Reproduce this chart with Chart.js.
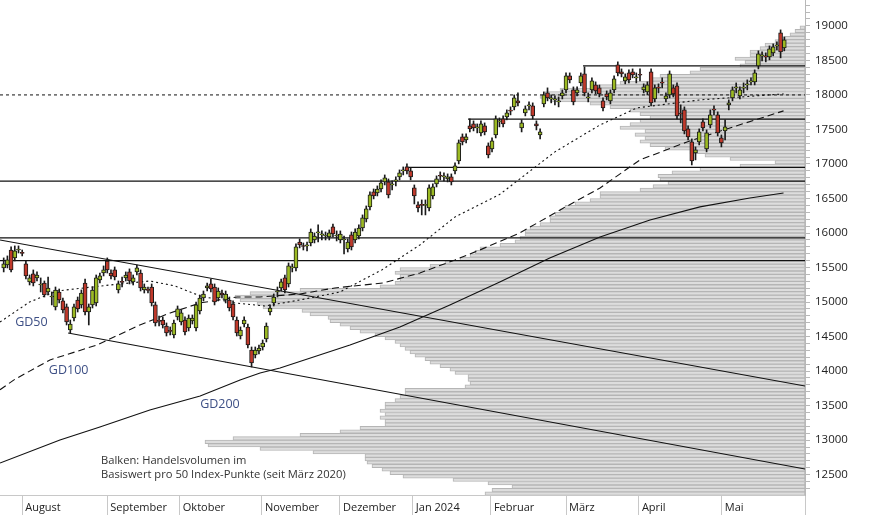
<!DOCTYPE html>
<html>
<head>
<meta charset="utf-8">
<script src="https://cdn.jsdelivr.net/npm/chart.js@4"></script>
<style>
  html, body { margin: 0; padding: 0; background: #ffffff; }
  #chart { display: block; }
</style>
</head>
<body>
<canvas id="chart" width="874" height="515"></canvas>
<script>
// Daily candles (trading day index 0 .. 211)
const openP = [15494,15537,15754,15639,15754,15720,15552,15291,15407,15349,
  15247,15276,15146,15073,14929,15146,15016,14929,14595,14769,
  15030,14958,15276,14856,14958,14987,15320,15421,15595,15421,
  15465,15175,15291,15349,15436,15291,15436,15421,15175,15180,
  15218,14958,14726,14740,14653,14581,14523,14784,14711,14740,
  14624,14726,14624,14871,15059,15204,15262,15218,15059,15131,
  15030,15030,14972,14740,14508,14682,14639,14305,14233,14291,
  14349,14465,14856,14987,15146,15204,15349,15262,15494,15494,
  15870,15813,15813,15856,15899,16001,15972,15957,15943,16088,
  15957,15899,15899,15769,15972,15899,15957,16073,16203,16378,
  16595,16580,16638,16740,16740,16696,16754,16812,16899,16957,
  16899,16653,16407,16407,16400,16363,16537,16711,16827,16812,
  16783,16812,16899,17044,17392,17348,17551,17580,17522,17450,
  17551,17261,17218,17421,17609,17653,17682,17769,17827,17914,
  17522,17740,17841,17841,17580,17421,17870,18029,17942,17928,
  17899,17986,18073,18276,18073,18029,18174,18305,17957,18073,
  18145,18102,17914,18015,17914,18073,18435,18334,18203,18319,
  18334,18247,18290,18073,18044,18334,17942,18102,18174,17942,
  18000,18102,18131,17725,17783,17508,17319,17160,17319,17609,
  17218,17566,17783,17711,17377,17479,17856,17957,18102,17986,
  18098,18145,18189,18189,18421,18566,18560,18551,18609,18710,
  18899,18681];
const highP = [15639,15668,15798,15813,15813,15754,15595,15392,15465,15436,
  15349,15305,15363,15146,15218,15189,15059,14972,14740,14972,
  15073,15175,15334,14972,15218,15392,15421,15523,15639,15465,
  15508,15305,15363,15436,15480,15392,15537,15465,15262,15218,
  15262,15001,14798,14784,14697,14639,14740,14943,14885,14784,
  14813,14813,15001,15102,15160,15276,15334,15262,15204,15175,
  15160,15073,15016,14784,14639,14784,14682,14349,14349,14378,
  14450,14697,14958,15117,15218,15334,15392,15566,15552,15842,
  15914,15856,15870,16059,16001,16117,16030,16015,16044,16131,
  16030,16030,15957,15914,16015,16059,16117,16262,16392,16595,
  16638,16682,16769,16841,16783,16754,16812,16914,16957,17001,
  16943,16696,16450,16479,16479,16696,16711,16827,16885,16871,
  16856,16856,17015,17348,17435,17435,17653,17624,17580,17624,
  17595,17305,17377,17696,17667,17696,17783,17827,18000,18029,
  17639,17841,17899,17885,17624,17508,18044,18102,18000,17986,
  17971,18073,18319,18319,18116,18116,18319,18406,18029,18247,
  18189,18145,17957,18058,18073,18276,18479,18377,18305,18363,
  18377,18319,18377,18160,18189,18377,18145,18160,18247,18029,
  18348,18145,18174,17856,17827,17551,17363,17247,17508,17653,
  17493,17783,17841,17754,17421,17639,17928,18116,18174,18116,
  18174,18218,18247,18363,18638,18624,18609,18710,18739,18768,
  18942,18841];
const lowP = [15436,15494,15436,15595,15711,15668,15335,15247,15233,15305,
  15146,15073,15102,14958,14885,14987,14842,14668,14552,14726,
  14856,14914,14813,14668,14914,14943,15276,15378,15421,15335,
  15320,15131,15218,15305,15262,15247,15392,15160,15131,15131,
  14943,14653,14653,14624,14508,14523,14480,14740,14668,14523,
  14581,14682,14581,14827,15016,15160,15146,14958,15016,15059,
  14987,14871,14740,14508,14465,14639,14334,14059,14190,14248,
  14305,14422,14813,14943,15073,15160,15131,15218,15436,15450,
  15784,15754,15740,15813,15856,15870,15899,15899,15899,15943,
  15885,15856,15697,15725,15754,15856,15914,16030,16160,16334,
  16494,16537,16595,16696,16508,16624,16682,16769,16841,16856,
  16769,16421,16305,16262,16262,16320,16494,16667,16769,16754,
  16740,16696,16856,17001,17276,17305,17464,17479,17450,17406,
  17421,17088,17175,17377,17537,17537,17639,17711,17783,17841,
  17464,17696,17783,17653,17493,17363,17827,17914,17885,17856,
  17827,17942,18029,18174,17856,17986,18131,17986,17899,18029,
  18015,17971,17769,17928,17870,18029,18276,18261,18160,18174,
  18247,18174,18203,18029,18000,17841,17899,18029,18102,17899,
  17957,17971,17653,17595,17435,17348,16986,17059,17276,17479,
  17175,17522,17711,17406,17247,17348,17783,17914,18029,17942,
  18029,18073,18145,18145,18377,18493,18479,18508,18566,18652,
  18537,18638];
const closeP = [15552,15610,15465,15740,15760,15705,15378,15349,15276,15392,
  15255,15102,15204,15080,15175,15030,14885,14711,14682,14929,
  14900,15131,14856,14929,15175,15349,15378,15465,15465,15378,
  15363,15262,15285,15392,15305,15349,15494,15204,15218,15170,
  14987,14697,14720,14668,14552,14575,14697,14900,14842,14566,
  14769,14769,14958,15059,15117,15233,15189,15001,15160,15102,
  15117,14914,14784,14552,14595,14740,14378,14117,14305,14334,
  14407,14653,14914,15073,15150,15291,15175,15523,15500,15798,
  15827,15805,15818,16015,15957,16005,15975,15960,16001,15986,
  15962,15986,15905,15870,15798,16015,16073,16218,16349,16552,
  16537,16638,16725,16798,16552,16700,16758,16871,16905,16899,
  16812,16537,16363,16400,16410,16653,16667,16783,16822,16815,
  16812,16740,16972,17305,17319,17392,17508,17522,17525,17580,
  17464,17131,17334,17653,17615,17580,17740,17765,17957,17885,
  17595,17798,17845,17696,17551,17464,18000,17957,17945,17932,
  17903,18029,18276,18218,17899,18073,18276,18029,17960,18203,
  18058,18015,17812,17971,18029,18232,18319,18305,18261,18218,
  18290,18250,18285,18116,18145,17885,18102,18098,18170,17986,
  18305,18015,17696,17720,17479,17392,17044,17203,17464,17522,
  17450,17711,17780,17450,17305,17537,17885,18073,18105,18073,
  18102,18150,18203,18319,18595,18570,18551,18667,18696,18714,
  18624,18797];

// Moving averages, read as [day index, level] points
const gd50 = [[-1,14711],[7,15001],[14.4,15160],[28.7,15247],[39.5,15305],[46.3,15233],
  [53.1,15088],[62.5,14987],[70.6,14943],[80.1,15030],[90.9,15146],[102.2,15465],
  [112.5,15827],[122,16233],[134.1,16560],[149,17175],[161.2,17566],[171.2,17812],
  [188.2,17928],[210.8,18015]];
const gd100 = [[-1,13730],[3,13880],[12.5,14161],[25.2,14378],[36.8,14668],[45,14842],
  [53.1,14987],[63.1,15073],[69.3,15073],[80.1,15117],[89.5,15204],[102.5,15276],
  [112.5,15421],[122,15610],[128.7,15754],[139.5,16001],[150.4,16334],[161.2,16653],
  [172,17059],[184.7,17319],[196.3,17522],[210.8,17769]];
const gd200 = [[-1,12668],[15.2,13001],[26,13190],[39.5,13436],[53.1,13639],[63.9,13871],
  [69.3,13972],[74.7,14045],[93.6,14378],[107.1,14639],[120.6,14958],[134.1,15291],
  [147.6,15639],[161.2,15943],[174.7,16189],[188.2,16378],[201.7,16508],[210.8,16580]];

// Trend channel and support / resistance levels
const trendUpper = [[-1,15899],[216.6,13784]];
const trendLower = [[17.4,14552],[216.6,12581]];
const levelLines = [
  { from: 156.6, value: 18420 },
  { from: 125.5, value: 17650 },
  { from: 108.5, value: 16950 },
  { from: -1, value: 16750 },
  { from: -1, value: 15930 },
  { from: -1, value: 15600 }
];
const dottedLevel = 18000;

// Volume profile: 50 point bins (bin centre) and volume (arbitrary units)
const volumeLevels = [];
for (let p = 12225; p <= 18975; p += 50) volumeLevels.push(p);
const volumeValues = [320,313,293,317,352,402,415,423,433,438,
  440,440,492,545,597,600,572,505,465,445,
  420,420,425,420,425,420,420,410,405,400,
  400,340,335,337,337,350,355,365,375,380,
  390,395,400,405,410,420,430,445,455,465,
  475,477,495,503,542,548,565,570,555,505,
  425,410,405,405,410,405,375,360,345,335,
  330,325,305,290,285,280,280,275,265,255,
  255,250,245,240,230,215,205,205,165,152,
  137,145,147,133,105,65,30,75,100,115,
  140,155,165,160,170,160,185,175,165,155,
  165,175,195,215,255,265,260,245,205,185,
  155,145,115,105,65,60,70,55,55,45,
  40,30,20,15,10,5];

// Axis labels
const monthStarts = [5, 28, 47.6, 69.8, 90.9, 110.6, 131.7, 152, 171.7, 194.1];
const monthLabels = ['August', 'September', 'Oktober', 'November', 'Dezember',
  'Jan 2024', 'Februar', 'März', 'April', 'Mai'];
const priceLabels = [12500, 13000, 13500, 14000, 14500, 15000, 15500, 16000, 16500, 17000, 17500, 18000, 18500, 19000];

const chartNotes = [
  { text: 'GD50', x: 3.1, y: 14711, size: 12.5, color: '#3d4f85' },
  { text: 'GD100', x: 12.2, y: 14016, size: 12.5, color: '#3d4f85' },
  { text: 'GD200', x: 53.1, y: 13523, size: 12.5, color: '#3d4f85' },
  { text: 'Balken: Handelsvolumen im', x: 26.3, y: 12697, size: 11.2, color: '#333333' },
  { text: 'Basiswert pro 50 Index-Punkte (seit März 2020)', x: 26.3, y: 12494, size: 11.2, color: '#333333' }
];

const X_MIN = -1;
const X_MAX = 216.6;
const GREEN = '#9cba23';
const RED = '#c0392b';

Chart.defaults.font.family = '"Open Sans", "DejaVu Sans", sans-serif';
Chart.defaults.color = '#222222';

function pairsToPoints(pairs) {
  return pairs.map(p => ({ x: p[0], y: p[1] }));
}

function lineSet(points, dash, width) {
  return {
    type: 'line',
    data: points,
    xAxisID: 'x',
    yAxisID: 'y',
    borderColor: '#111111',
    borderWidth: width,
    borderDash: dash,
    pointRadius: 0,
    tension: 0,
    fill: false,
    order: 5
  };
}

// Draws the GD labels and the note about the bars
const notesPlugin = {
  id: 'chartNotes',
  afterDatasetsDraw(chart) {
    const ctx = chart.ctx;
    const xs = chart.scales.x;
    const ys = chart.scales.y;
    ctx.save();
    chartNotes.forEach(n => {
      ctx.font = n.size + 'px "Open Sans", "DejaVu Sans", sans-serif';
      ctx.fillStyle = n.color;
      ctx.textAlign = 'left';
      ctx.textBaseline = 'middle';
      ctx.fillText(n.text, xs.getPixelForValue(n.x), ys.getPixelForValue(n.y));
    });
    ctx.restore();
  }
};

const datasets = [];

// volume profile bars, growing from the right edge
datasets.push({
  type: 'bar',
  indexAxis: 'y',
  xAxisID: 'xv',
  yAxisID: 'y',
  data: volumeLevels.map((p, i) => ({ x: volumeValues[i], y: p })),
  backgroundColor: '#dddddd',
  borderColor: '#b5b5b5',
  borderWidth: 1,
  borderSkipped: false,
  barThickness: 3.45,
  grouped: false,
  order: 10
});

// horizontal levels
levelLines.forEach(l => {
  datasets.push(lineSet([{ x: l.from, y: l.value }, { x: X_MAX, y: l.value }], [], 1.3));
});
datasets.push(lineSet([{ x: X_MIN, y: dottedLevel }, { x: X_MAX, y: dottedLevel }], [3, 3], 1));

// trend channel
datasets.push(lineSet(pairsToPoints(trendUpper), [], 1.1));
datasets.push(lineSet(pairsToPoints(trendLower), [], 1.1));

// moving averages
datasets.push(lineSet(pairsToPoints(gd50), [2, 3], 1.1));
datasets.push(lineSet(pairsToPoints(gd100), [7, 4], 1.1));
datasets.push(lineSet(pairsToPoints(gd200), [], 1.1));

// candle wicks
datasets.push({
  type: 'bar',
  xAxisID: 'x',
  yAxisID: 'y',
  data: lowP.map((l, i) => ({ x: i, y: [l, highP[i]] })),
  backgroundColor: '#1a1a1a',
  borderWidth: 0,
  barThickness: 1,
  grouped: false,
  order: 2
});

// candle bodies
datasets.push({
  type: 'bar',
  xAxisID: 'x',
  yAxisID: 'y',
  data: openP.map((o, i) => ({ x: i, y: [o, closeP[i]] })),
  backgroundColor: openP.map((o, i) => closeP[i] >= o ? GREEN : RED),
  borderColor: '#1a1a1a',
  borderWidth: 1,
  borderSkipped: false,
  barThickness: 4,
  minBarLength: 1,
  grouped: false,
  order: 1
});

const ctx = document.getElementById('chart').getContext('2d');
new Chart(ctx, {
  data: { datasets: datasets },
  options: {
    responsive: false,
    animation: false,
    devicePixelRatio: 1,
    layout: { padding: 0 },
    plugins: {
      legend: { display: false },
      tooltip: { enabled: false }
    },
    scales: {
      x: {
        type: 'linear',
        position: 'bottom',
        offset: false,
        bounds: 'data',
        min: X_MIN,
        max: X_MAX,
        afterBuildTicks: s => {
          s.ticks = monthStarts.concat([X_MAX]).map(v => ({ value: v }));
        },
        afterFit: s => { s.height = 20; s.paddingLeft = 0; s.paddingRight = 0; },
        ticks: {
          autoSkip: false,
          maxRotation: 0,
          align: 'start',
          labelOffset: 3,
          padding: -14,
          font: { size: 11 },
          color: '#222222',
          callback: (v, i) => monthLabels[i] || ''
        },
        grid: { offset: false, drawOnChartArea: false, tickLength: 20, color: '#c8c8c8' },
        border: { color: '#c8c8c8' }
      },
      xv: {
        type: 'linear',
        axis: 'x',
        display: false,
        offset: false,
        min: 0,
        max: 805,
        reverse: true
      },
      y: {
        type: 'linear',
        position: 'right',
        offset: false,
        bounds: 'data',
        min: 12205,
        max: 19375,
        afterBuildTicks: s => {
          const t = [];
          for (let v = 12300; v <= 19300; v += 100) t.push({ value: v });
          s.ticks = t;
        },
        afterFit: s => { s.width = 69; s.paddingTop = 0; s.paddingBottom = 0; },
        ticks: {
          autoSkip: false,
          padding: 5,
          font: { size: 11.5 },
          color: '#222222',
          callback: v => priceLabels.includes(v) ? String(v) : ''
        },
        grid: { offset: false, drawOnChartArea: false, tickLength: 5, color: '#b8b8b8' },
        border: { color: '#b8b8b8' }
      }
    }
  },
  plugins: [notesPlugin]
});
</script>
</body>
</html>
